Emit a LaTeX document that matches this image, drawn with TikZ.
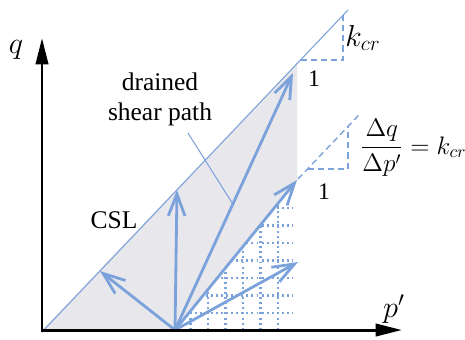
\documentclass[tikz,border=0pt]{standalone}
\usepackage{fontspec}
\setmainfont{Liberation Serif}
\usepackage{amsmath}
\usetikzlibrary{arrows.meta, calc}

\definecolor{pathblue}{RGB}{124,162,220}
\definecolor{zonegray}{RGB}{232,232,236}

\tikzset{
  stresspath/.style={pathblue, line width=1.6pt, -{Straight Barb[length=12.5pt,width=9.5pt]}},
  slopeline/.style={pathblue, line width=0.8pt, dash pattern=on 3.5pt off 2.3pt},
  gridline/.style={pathblue, line width=1.3pt, dash pattern=on 1.1pt off 1.8pt},
  thinblue/.style={pathblue, line width=0.6pt},
  mathlabel/.style={font=\fontsize{16.5}{19}\selectfont},
}

\begin{document}
\begin{tikzpicture}[x=0.02cm, y=-0.02cm, font=\fontsize{14.5}{17}\selectfont]
\useasboundingbox (0,0) rectangle (465,339);

% key points (pixel grid, y pointing down)
\coordinate (O) at (42,330);
\coordinate (A) at (175,330);
\coordinate (qtip) at (42,38);
\coordinate (ptip) at (402,330);
\coordinate (cslbot) at (42,332);
\coordinate (csltop) at (348,10);
\coordinate (peak) at (297,63);
\foreach \name/\x/\y in {t1/100/271, t2/177/190, t3/293/73, t4/297/180, t5/298/262}
  \coordinate (\name) at (\x,\y);

% shaded zone of the drained paths
\fill[zonegray] (O) -- (peak) -- (t4) -- (A) -- cycle;

% dotted grid under the flatter paths
\begin{scope}
  \clip (A) -- (t4) -- (297,330) -- cycle;
  \foreach \x in {190.5,208,225.5,243,260.5,278}
    \draw[gridline] (\x,180) -- (\x,330);
  \foreach \y in {208,225.5,243,260.5,278,295.5,313}
    \draw[gridline] (175,\y) -- (293,\y);
\end{scope}

% critical state line
\draw[thinblue] (cslbot) -- (csltop);

% slope triangles
\coordinate (s1) at (300.5,60);
\coordinate (s2) at (343,60);
\coordinate (s3) at (343,15.3);
\draw[slopeline] (s1) -- (s2) -- (s3);
\coordinate (d1) at (298,179);
\coordinate (d2) at (360,113.8);
\coordinate (d3) at (307.5,169);
\coordinate (d4) at (348,169);
\coordinate (d5) at (348,126.4);
\draw[slopeline] (d1) -- (d2);
\draw[slopeline] (d3) -- (d4) -- (d5);

% stress paths from the starting point
\foreach \t in {t1,t2,t3,t4,t5}
  \draw[stresspath] (A) -- (\t);

% axes
\draw[line width=1.7pt, {Triangle[length=15pt,width=7pt]}-{Triangle[length=15pt,width=7pt]}]
  (qtip) -- (O) -- (ptip);

% labels
\node[mathlabel] (qlab) at (16,50) {$q$};
\node[mathlabel] (plab) at (394,309) {$p'$};
\node (csllab) at (114,220) {CSL};
\node[align=center] (drained) at (160,99) {drained\\shear path};
\coordinate (lead) at (188,133);
\draw[thinblue] (lead) -- ($(A)!0.49!(t3)$);
\node[mathlabel] (kcr) at (363,38) {$k_{cr}$};
\node[font=\fontsize{13.5}{15}\selectfont] (one1) at (314,79) {1};
\node[font=\fontsize{13.5}{15}\selectfont] (one2) at (324,192) {1};
\node[anchor=west, inner sep=0pt] (ratio) at (360,148) {$\dfrac{\Delta q}{\Delta p'} = k_{cr}$};
\end{tikzpicture}
\end{document}
